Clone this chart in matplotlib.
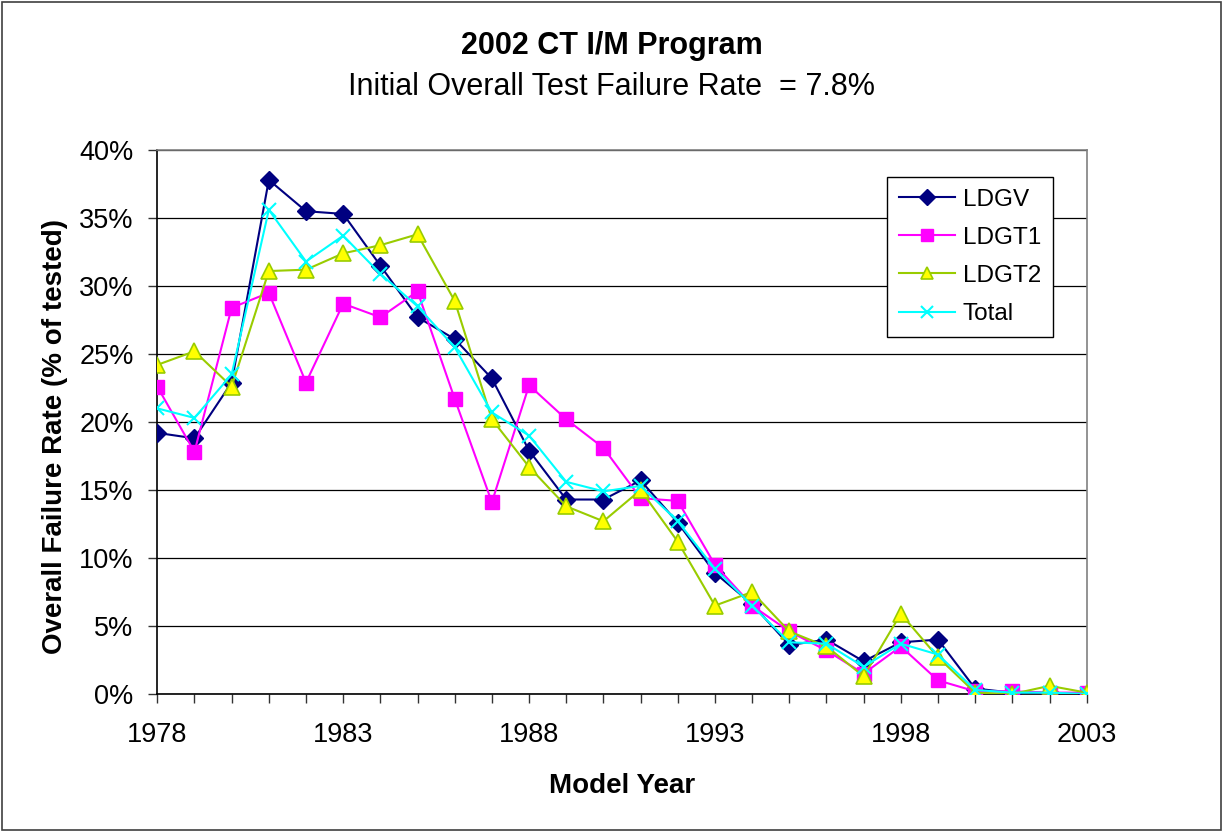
import matplotlib
matplotlib.use("Agg")
import matplotlib.pyplot as plt
from matplotlib.patches import Rectangle
from matplotlib.ticker import MultipleLocator, FixedLocator, FuncFormatter

plt.rcParams['font.family'] = ['Liberation Sans', 'DejaVu Sans']

years = list(range(1978, 2004))
ldgv = [19.2, 18.8, 22.9, 37.8, 35.5, 35.3, 31.5, 27.7, 26.1, 23.2, 17.9, 14.3, 14.3,
        15.7, 12.6, 8.9, 6.6, 3.6, 4.0, 2.4, 3.8, 4.0, 0.4, 0.1, 0.1, 0.0]
ldgt1 = [22.6, 17.8, 28.4, 29.5, 22.9, 28.7, 27.7, 29.6, 21.7, 14.1, 22.7, 20.2, 18.1,
         14.4, 14.2, 9.5, 6.5, 4.6, 3.2, 1.5, 3.5, 1.0, 0.2, 0.2, 0.1, 0.1]
ldgt2 = [24.2, 25.2, 22.6, 31.1, 31.2, 32.4, 33.0, 33.8, 28.9, 20.2, 16.7, 13.8, 12.7,
         15.0, 11.2, 6.5, 7.5, 4.6, 3.5, 1.3, 5.9, 2.7, 0.1, 0.0, 0.6, 0.1]
total = [21.0, 20.3, 23.5, 35.6, 31.8, 33.7, 30.9, 28.5, 25.5, 20.7, 19.0, 15.6, 14.9,
         15.3, 12.7, 9.2, 6.5, 3.8, 3.7, 2.0, 3.7, 2.9, 0.3, 0.1, 0.1, 0.0]
year_labels = [1978, 1983, 1988, 1993, 1998, 2003]

W, H = 1225, 831
fig = plt.figure(figsize=(W / 100, H / 100), dpi=100)
ax = fig.add_axes([157.3 / W, 1 - 694 / H, (1086.7 - 157.3) / W, (694 - 150) / H])

ax.plot(years, ldgv, color='#000080', lw=1.5, marker='D', ms=9,
        mfc='#000080', mec='#000080', label='LDGV', zorder=3)
ax.plot(years, ldgt1, color='#FF00FF', lw=1.5, marker='s', ms=10,
        mfc='#FF00FF', mec='#FF00FF', label='LDGT1', zorder=3)
ax.plot(years, ldgt2, color='#99CC00', lw=1.5, marker='^', ms=11,
        mfc='#FFFF00', mec='#99CC00', mew=1.2, label='LDGT2', zorder=3)
ax.plot(years, total, color='#00FFFF', lw=1.5, marker='x', ms=10,
        mec='#00FFFF', mew=1.5, label='Total', zorder=3)

ax.set_xlim(1978, 2003)
ax.set_ylim(0, 40)
ax.xaxis.set_major_locator(FixedLocator(year_labels))
ax.xaxis.set_minor_locator(MultipleLocator(1))
ax.yaxis.set_major_locator(MultipleLocator(5))
ax.yaxis.set_major_formatter(FuncFormatter(lambda v, p: f"{int(round(v))}%"))
ax.tick_params(axis='x', which='both', direction='out', length=6.5, width=1,
               color='#333333', labelsize=19.5, pad=14)
ax.tick_params(axis='y', which='major', direction='out', length=6.5, width=1,
               color='#333333', labelsize=19.5, pad=10.5)
ax.grid(axis='y', color='#000000', lw=0.9, zorder=0)
ax.set_axisbelow(True)

for s in ('left', 'bottom'):
    ax.spines[s].set_color('#000000')
    ax.spines[s].set_linewidth(1.2)
for s in ('top', 'right'):
    ax.spines[s].set_color('#808080')
    ax.spines[s].set_linewidth(1.2)

ax.set_xlabel('Model Year', fontsize=20, fontweight='bold', labelpad=18)
ax.set_ylabel('Overall Failure Rate (% of tested)', fontsize=20, fontweight='bold')
ax.yaxis.set_label_coords((55 - 157.3) / (1086.7 - 157.3), (694 - 437) / (694 - 150))
ax.yaxis.label.set_va('center')

fig.text(612 / W, 1 - 46 / H, '2002 CT I/M Program', fontsize=22, fontweight='bold',
         ha='center', va='center')
fig.text(612 / W, 1 - 87 / H, 'Initial Overall Test Failure Rate  = 7.8%', fontsize=22,
         ha='center', va='center')

leg = ax.legend(loc='upper left', bbox_to_anchor=((887.3 - 157.3) / (1086.7 - 157.3),
                                                  (694 - 176.7) / (694 - 150)),
                fontsize=17.5, frameon=True, fancybox=False, edgecolor='#000000',
                framealpha=1, borderpad=0.5, labelspacing=0.66, handlelength=2.3,
                handletextpad=0.3, borderaxespad=0, markerscale=0.85)
leg.get_frame().set_linewidth(1.0)

fig.patches.append(Rectangle((1.5 / W, 1.5 / H), (1221 - 1.5) / W, (829.5 - 1.5) / H,
                             transform=fig.transFigure, fill=False, ec='#404040', lw=1.2))

fig.savefig('out.png', dpi=100)
